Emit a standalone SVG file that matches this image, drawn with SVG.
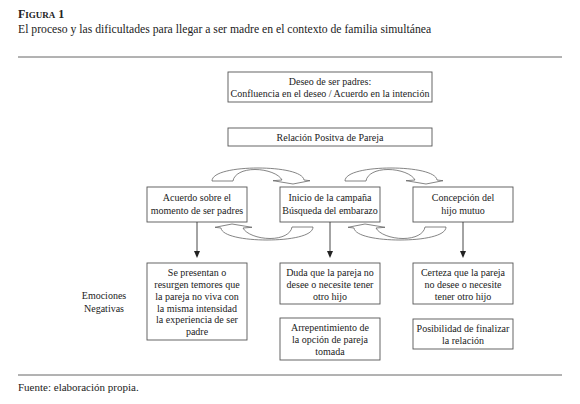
<svg xmlns="http://www.w3.org/2000/svg" width="580" height="404" viewBox="0 0 580 404">
<style>
text{font-family:"Liberation Serif","Times New Roman",serif;fill:#222;}
.t{font-size:10px;text-anchor:middle;}
.box{fill:#fff;stroke:#555;stroke-width:0.9;}
.rule{stroke:#555;stroke-width:0.9;}
.ln{stroke:#333;stroke-width:0.9;fill:none;}
.ca{fill:#fff;stroke:#666;stroke-width:0.8;}
</style>
<defs>
<path id="carrow" d="M313,227 C313,236 290,240 267,240 C244,240 222,236 221,228 L215,227.3 L232,224 L252,227.3 L243,228 C246,234 258,238.5 270,238.5 C282,238.5 291,234 292,227 Z"/>
</defs>
<rect width="580" height="404" fill="#fff"/>
<text x="18" y="18" style="font-size:12px;font-weight:bold">F<tspan style="font-size:9px">IGURA</tspan> 1</text>
<text x="18" y="33" style="font-size:11.7px">El proceso y las dificultades para llegar a ser madre en el contexto de familia simultánea</text>
<line class="rule" x1="18" y1="57" x2="562" y2="57"/>

<g id="n-deseo">
<rect class="box" x="228" y="72" width="204" height="30"/>
<text class="t" x="330" y="85">Deseo de ser padres:</text>
<text class="t" x="330" y="97">Confluencia en el deseo / Acuerdo en la intención</text>
</g>
<g id="n-relacion">
<rect class="box" x="228" y="128" width="204" height="18"/>
<text class="t" x="330" y="140.5">Relación Positva de Pareja</text>
</g>
<g id="n-acuerdo">
<rect class="box" x="147" y="187" width="100" height="35"/>
<text class="t" x="197" y="201">Acuerdo sobre el</text>
<text class="t" x="197" y="214">momento de ser padres</text>
</g>
<g id="n-inicio">
<rect class="box" x="280" y="187" width="100" height="35"/>
<text class="t" x="330" y="201">Inicio de la campaña</text>
<text class="t" x="330" y="214">Búsqueda del embarazo</text>
</g>
<g id="n-concepcion">
<rect class="box" x="413" y="187" width="100" height="35"/>
<text class="t" x="463" y="201">Concepción del</text>
<text class="t" x="463" y="214">hijo mutuo</text>
</g>
<g id="n-temores">
<rect class="box" x="147" y="263" width="100" height="77"/>
<text class="t" x="197" y="276">Se presentan o</text>
<text class="t" x="197" y="288">resurgen temores que</text>
<text class="t" x="197" y="300">la pareja no viva con</text>
<text class="t" x="197" y="312">la misma intensidad</text>
<text class="t" x="197" y="323">la experiencia de ser</text>
<text class="t" x="197" y="335">padre</text>
</g>
<g id="n-duda">
<rect class="box" x="280" y="263" width="100" height="41"/>
<text class="t" x="330" y="276">Duda que la pareja no</text>
<text class="t" x="330" y="288">desee o necesite tener</text>
<text class="t" x="330" y="300">otro hijo</text>
</g>
<g id="n-arrep">
<rect class="box" x="280" y="318" width="100" height="42"/>
<text class="t" x="330" y="331">Arrepentimiento de</text>
<text class="t" x="330" y="343">la opción de pareja</text>
<text class="t" x="330" y="355">tomada</text>
</g>
<g id="n-certeza">
<rect class="box" x="413" y="263" width="100" height="41"/>
<text class="t" x="463" y="276">Certeza que la pareja</text>
<text class="t" x="463" y="288">no desee o necesite</text>
<text class="t" x="463" y="300">tener otro hijo</text>
</g>
<g id="n-posib">
<rect class="box" x="413" y="319" width="100" height="30"/>
<text class="t" x="463" y="332">Posibilidad de finalizar</text>
<text class="t" x="463" y="344">la relación</text>
</g>
<g id="n-emociones">
<text class="t" x="104" y="299">Emociones</text>
<text class="t" x="104" y="312">Negativas</text>
</g>

<g id="connectors">
<line class="ln" x1="197" y1="222" x2="197" y2="252"/>
<polygon points="194,251 200,251 197,258" fill="#222"/>
<line class="ln" x1="330" y1="222" x2="330" y2="252"/>
<polygon points="327,251 333,251 330,258" fill="#222"/>
<line class="ln" x1="463" y1="222" x2="463" y2="252"/>
<polygon points="460,251 466,251 463,258" fill="#222"/>
<use href="#carrow" class="ca"/>
<use href="#carrow" class="ca" transform="translate(133,0)"/>
<use href="#carrow" class="ca" transform="rotate(180,262.5,204)"/>
<use href="#carrow" class="ca" transform="translate(133,0) rotate(180,262.5,204)"/>
</g>

<line class="rule" x1="18" y1="375" x2="562" y2="375"/>
<text x="18" y="391" style="font-size:11px">Fuente: elaboración propia.</text>
</svg>
